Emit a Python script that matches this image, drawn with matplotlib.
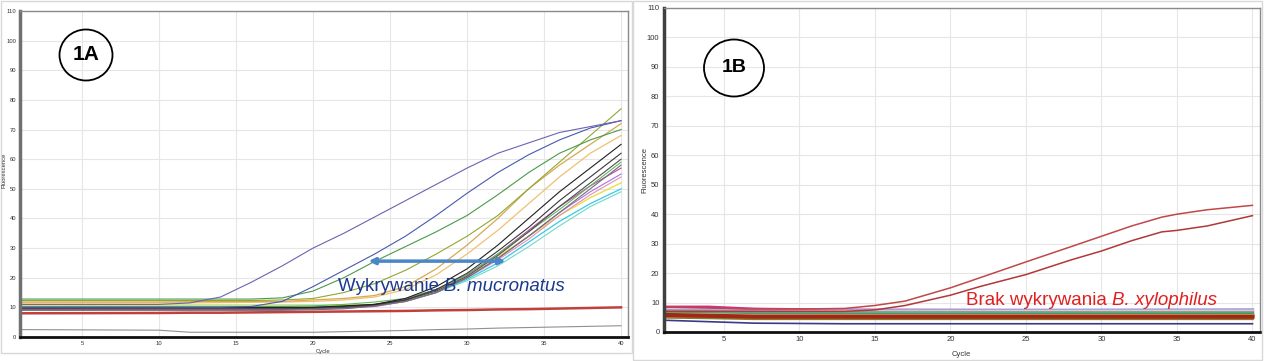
import matplotlib
matplotlib.use("Agg")
import matplotlib.pyplot as plt
from matplotlib.patches import Ellipse, Rectangle

plt.rcParams['font.family'] = ['Liberation Sans', 'DejaVu Sans']

# ---- panel 1A: B. mucronatus, amplification curves ----
cycles_a = [1, 10, 12, 14, 16, 18, 20, 22, 24, 26, 28, 30, 32, 34, 36, 38, 40]

a_purple = [11, 11, 11.5, 13.5, 18.5, 24, 30, 35, 40.5, 46, 51.5, 57, 62, 65.5, 69, 71, 73]
a_blue = [10, 10, 10, 10, 10.3, 12, 17, 22.5, 28, 34, 41, 48.5, 55.5, 61.5, 66.5, 70.5, 73]
a_green = [12.8, 12.8, 12.8, 12.8, 12.8, 13.2, 15.5, 20, 25.5, 30.5, 35.5, 41, 48, 55.5, 62, 66.5, 70]
a_olive = [12.3, 12.3, 12.3, 12.3, 12.3, 12.5, 13, 15, 18, 22.5, 28, 34, 41, 50, 59, 68, 77]
a_tan = [11.8, 11.8, 11.9, 12, 12, 12, 12.5, 13, 14, 17, 23, 31, 40, 50, 58, 65, 72]
a_orange = [11.5, 11.5, 11.5, 11.6, 11.7, 11.8, 12, 12.5, 13.5, 16, 21, 28, 36, 45, 54, 62, 68]
a_dark1 = [10, 10, 10, 10, 10, 10, 10, 10.5, 11, 13, 17, 23, 31, 40, 49, 57, 65]
a_dark2 = [9.8, 9.8, 9.8, 9.8, 9.8, 9.8, 10, 10.3, 11, 12.5, 16, 21.5, 29, 37, 46, 54, 62]
a_dark3 = [9.5, 9.5, 9.5, 9.5, 9.5, 9.5, 9.7, 10, 10.8, 12.5, 15.5, 20.5, 27.5, 35.5, 44, 52, 60]
a_gray = [9, 9, 9, 9, 9, 9, 9.2, 9.5, 10.5, 12, 15, 20, 26.5, 34, 42, 50, 58]
a_green2 = [10.2, 10.2, 10.2, 10.2, 10.2, 10.3, 10.5, 11, 11.8, 13, 16, 21, 28, 35.5, 43, 51, 59]
a_magenta = [9.5, 9.5, 9.5, 9.5, 9.5, 9.5, 9.7, 10, 10.5, 12.5, 16, 21, 28, 36, 44, 51, 57]
a_violet = [9.2, 9.2, 9.2, 9.2, 9.2, 9.2, 9.4, 9.7, 10.3, 12, 15, 20, 26.5, 34, 42, 49, 55]
a_pink = [9.3, 9.3, 9.3, 9.3, 9.3, 9.3, 9.5, 9.8, 10.3, 12, 15, 20, 26, 33, 41, 48, 54]
a_yellow = [10.5, 10.5, 10.5, 10.5, 10.5, 10.5, 10.5, 10.7, 11, 12.5, 15.5, 20, 27, 34, 41, 47, 52]
a_cyan = [10, 10, 10, 10, 10, 10, 10, 10, 10.5, 12, 15, 19.5, 25, 32, 39, 45, 50]
a_teal = [10.8, 10.8, 10.8, 10.8, 10.8, 10.8, 10.8, 10.8, 11, 12.3, 15, 19, 24, 30.5, 37.5, 44, 49]
a_red = [8, 8.1, 8.2, 8.2, 8.3, 8.4, 8.5, 8.6, 8.7, 8.8, 9, 9.1, 9.3, 9.4, 9.6, 9.8, 10]
a_lowgray = [2.5, 2.3, 1.6, 1.6, 1.6, 1.6, 1.6, 1.8, 2, 2.2, 2.5, 2.7, 3, 3.2, 3.4, 3.6, 3.8]

series_a = [
    (a_lowgray, '#909090', 0.8),
    (a_red, '#c0403c', 1.8),
    (a_teal, '#70d8c8', 0.8),
    (a_cyan, '#38c8e8', 0.9),
    (a_yellow, '#e8e040', 1.0),
    (a_pink, '#e090c0', 0.8),
    (a_violet, '#b070d8', 0.8),
    (a_magenta, '#c040b0', 0.8),
    (a_green2, '#60b860', 0.8),
    (a_gray, '#707070', 0.8),
    (a_dark3, '#505050', 0.8),
    (a_dark2, '#383838', 0.8),
    (a_dark1, '#202020', 0.8),
    (a_orange, '#f0c070', 0.9),
    (a_tan, '#d8a850', 0.9),
    (a_olive, '#90a830', 0.8),
    (a_green, '#4a9a4a', 0.8),
    (a_blue, '#4858b0', 0.8),
    (a_purple, '#6a64b0', 0.8),
]

# ---- panel 1B: B. xylophilus ----
cycles_b = [1, 5, 10, 13, 15, 17, 20, 22, 25, 28, 30, 32, 34, 35, 37, 40]
b_red1 = [8.5, 8, 7.8, 8, 9, 10.5, 15, 18.5, 23.8, 29, 32.5, 36, 39, 40, 41.5, 43]
b_red2 = [7, 7, 7, 7, 7.5, 9, 12.5, 15.5, 19.5, 24.5, 27.5, 31, 34, 34.5, 36, 39.5]

cycles_b0 = [1, 4, 7, 13, 40]
b_navy = [4, 3.5, 3, 2.8, 2.8]
b_magenta = [8.5, 8.5, 7.8, 7.5, 7.2]
b_lavender = [7.2, 7.2, 7, 7.2, 7.5]
b_teal = [7, 6.8, 6.5, 6.5, 6.5]
b_pink = [6.5, 6.5, 6.5, 6.8, 7]
b_green = [6.2, 6, 5.8, 5.8, 6]
b_tan = [6, 5.8, 5.5, 5.5, 5.5]
b_orange = [5.5, 5.5, 5, 5, 5]
b_darkred = [5.8, 5.5, 5.2, 5.2, 5.2]
b_olive = [5, 4.8, 4.5, 4.5, 4.5]

series_b0 = [
    (b_navy, '#3a3a8a', 1.2),
    (b_magenta, '#d03080', 2.0),
    (b_lavender, '#a0a0e0', 2.5),
    (b_pink, '#f0c0c0', 2.5),
    (b_teal, '#60a8a0', 2.5),
    (b_green, '#4c9a4c', 2.5),
    (b_tan, '#e0c080', 2.5),
    (b_olive, '#808030', 2.0),
    (b_orange, '#d07820', 2.5),
    (b_darkred, '#a02818', 3.0),
]

xticks = [5, 10, 15, 20, 25, 30, 35, 40]
yticks = list(range(0, 111, 10))

fig = plt.figure(figsize=(12.64, 3.61), dpi=100)
W, H = 1264, 361

# light frames around the two panels
fig.add_artist(Rectangle((1 / W, 8 / H), 631 / W, 352 / H, transform=fig.transFigure,
                         fill=False, ec='#d8d8d8', lw=1))
fig.add_artist(Rectangle((633 / W, 1 / H), 629 / W, 359 / H, transform=fig.transFigure,
                         fill=False, ec='#d8d8d8', lw=1))


def style_axes(ax, xmax, fs, left_col):
    ax.set_xlim(1, xmax)
    ax.set_ylim(0, 110)
    ax.set_xticks(xticks)
    ax.set_yticks(yticks)
    ax.grid(True, color='#e6e6e6', lw=0.8)
    ax.set_axisbelow(True)
    ax.tick_params(length=0, labelsize=fs, labelcolor='#333333', pad=3)
    for s in ['top', 'right']:
        ax.spines[s].set_color('#8a8a8a')
        ax.spines[s].set_linewidth(1.0)
    ax.spines['left'].set_color(left_col)
    ax.spines['left'].set_linewidth(2.5)
    ax.spines['bottom'].set_color('#101010')
    ax.spines['bottom'].set_linewidth(2.0)


# panel A
axA = fig.add_axes([20.4 / W, 24 / H, 607.6 / W, 326 / H])
style_axes(axA, 40.45, 4.2, '#707070')
for vals, col, lw in series_a:
    axA.plot(cycles_a, vals, color=col, lw=lw)
axA.annotate('', xy=(32.5, 25.6), xytext=(23.6, 25.6),
             arrowprops=dict(arrowstyle='<|-|>', color='#4a86c8', lw=2.5,
                             mutation_scale=9, shrinkA=0, shrinkB=0))
axA.text(28.5, 17, 'Wykrywanie ', color='#1a3a8f', fontsize=13.5, ha='right', va='center')
axA.text(28.5, 17, 'B. mucronatus', color='#1a3a8f', fontsize=13.5, style='italic',
         ha='left', va='center')
fig.text(323 / W, 1 - 351 / H, 'Cycle', fontsize=4.2, color='#333333', ha='center', va='center')
fig.text(4 / W, 1 - 170 / H, 'Fluorescence', fontsize=4.2, color='#333333', rotation=90,
         ha='center', va='center')

# panel B
axB = fig.add_axes([663.6 / W, 29 / H, 596.4 / W, 324 / H])
style_axes(axB, 40.5, 5.5, '#404040')
for vals, col, lw in series_b0:
    axB.plot(cycles_b0, vals, color=col, lw=lw)
axB.plot(cycles_b, b_red1, color='#c04848', lw=1.1)
axB.plot(cycles_b, b_red2, color='#b03838', lw=1.1)
axB.text(30.7, 10.8, 'Brak wykrywania ', color='#e02020', fontsize=13.5, ha='right', va='center')
axB.text(30.7, 10.8, 'B. xylophilus', color='#e02020', fontsize=13.5, style='italic',
         ha='left', va='center')
fig.text(961 / W, 1 - 354 / H, 'Cycle', fontsize=5.5, color='#333333', ha='center', va='center')
fig.text(645 / W, 1 - 170 / H, 'Fluorescence', fontsize=5.5, color='#333333', rotation=90,
         ha='center', va='center')

# circled panel labels
fig.add_artist(Ellipse((86 / W, 1 - 55 / H), 53 / W, 51 / H, transform=fig.transFigure,
                       fill=False, ec='black', lw=1.3))
fig.text(86 / W, 1 - 55 / H, '1A', fontsize=15, fontweight='bold', ha='center', va='center')
fig.add_artist(Ellipse((734 / W, 1 - 68 / H), 60 / W, 57 / H, transform=fig.transFigure,
                       fill=False, ec='black', lw=1.3))
fig.text(734 / W, 1 - 68 / H, '1B', fontsize=14, fontweight='bold', ha='center', va='center')

fig.savefig('out.png', dpi=100)
